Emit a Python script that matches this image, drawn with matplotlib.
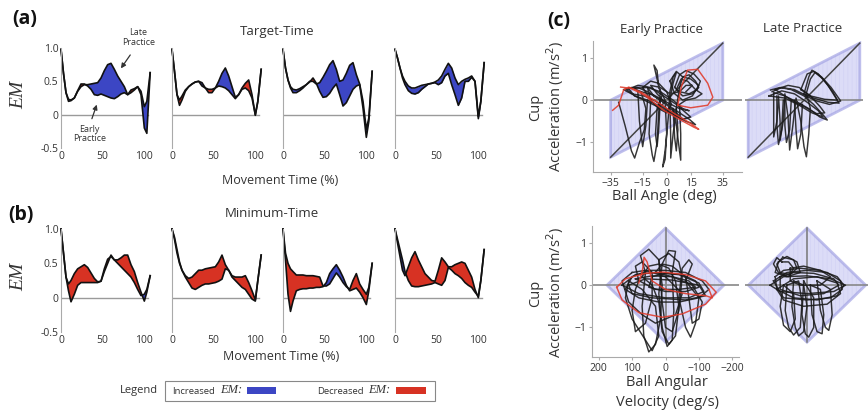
import numpy as np
import matplotlib
matplotlib.use("Agg")
import matplotlib.pyplot as plt
from matplotlib.patches import Polygon, Rectangle

plt.rcParams['font.family'] = ['Open Sans', 'DejaVu Sans']
plt.rcParams['hatch.linewidth'] = 0.4

W, H = 868, 413
fig = plt.figure(figsize=(W / 100, H / 100), dpi=100)

# ---------------- data: EM curves (movement time in %) ----------------
movement_time = [0, 3, 6, 9, 12, 16, 20, 24, 28, 32, 36, 40, 44, 48, 52, 56,
                 60, 64, 68, 72, 76, 80, 84, 88, 92, 96, 100, 103, 107]

target_time_late = [
    [.98, .62, .33, .23, .22, .25, .35, .42, .45, .45, .46, .47, .48, .55, .66, .75, .77, .68, .58, .50, .42, .30, .33, .37, .42, .35, .12, .20, .63],
    [.98, .65, .30, .14, .22, .35, .42, .46, .49, .50, .48, .40, .33, .33, .40, .50, .62, .70, .58, .42, .26, .30, .38, .40, .36, .25, .00, .20, .68],
    [.98, .70, .52, .42, .38, .37, .39, .42, .45, .50, .50, .46, .48, .56, .65, .75, .81, .68, .50, .52, .62, .74, .78, .60, .46, .20, -.22, -.05, .65],
    [.98, .85, .70, .58, .50, .43, .40, .40, .42, .44, .45, .46, .47, .49, .52, .58, .68, .77, .70, .55, .45, .50, .53, .55, .58, .50, -.03, .20, .78],
]
target_time_early = [
    [.98, .62, .33, .20, .21, .25, .36, .46, .46, .43, .38, .30, .29, .31, .29, .27, .25, .24, .27, .31, .33, .30, .37, .39, .42, .30, -.20, -.28, .63],
    [.98, .65, .30, .22, .28, .37, .42, .46, .49, .50, .43, .40, .38, .38, .40, .43, .42, .40, .36, .30, .24, .30, .40, .47, .52, .30, -.01, .20, .68],
    [.98, .70, .52, .40, .33, .33, .36, .40, .45, .49, .55, .47, .35, .26, .27, .32, .40, .46, .30, .13, .18, .28, .38, .43, .45, .10, -.34, -.10, .65],
    [.98, .85, .70, .55, .45, .36, .32, .31, .33, .38, .42, .46, .47, .48, .45, .48, .58, .62, .45, .30, .14, .25, .50, .50, .56, .50, -.06, .20, .78],
]
minimum_time_late = [
    [1.0, .65, .30, .10, -.06, .05, .18, .22, .22, .22, .22, .22, .22, .24, .38, .50, .62, .55, .50, .45, .40, .35, .30, .22, .12, .03, .05, .12, .32],
    [1.0, .88, .70, .52, .40, .30, .22, .14, .12, .15, .18, .20, .20, .21, .22, .24, .27, .42, .40, .30, .25, .20, .15, .12, .05, -.02, -.05, .25, .62],
    [1.0, .55, .05, -.20, -.05, .10, .12, .13, .13, .14, .14, .15, .15, .16, .22, .35, .42, .48, .40, .30, .18, .10, .12, .14, .08, .00, -.10, .10, .50],
    [1.0, .85, .70, .55, .38, .25, .17, .16, .16, .17, .18, .19, .20, .22, .20, .18, .25, .44, .40, .35, .32, .28, .22, .18, .15, .08, .02, .25, .70],
]
minimum_time_early = [
    [1.0, .65, .30, .20, .25, .35, .42, .45, .48, .44, .36, .28, .23, .24, .42, .56, .60, .55, .55, .58, .62, .62, .48, .38, .22, .08, -.05, .08, .32],
    [1.0, .85, .65, .50, .40, .32, .28, .30, .35, .40, .40, .42, .43, .44, .45, .52, .62, .48, .40, .32, .30, .30, .30, .32, .22, .10, -.03, .25, .62],
    [1.0, .65, .50, .42, .38, .33, .33, .33, .32, .32, .32, .31, .30, .17, .17, .20, .28, .36, .30, .22, .16, .12, .25, .35, .20, .12, .05, .15, .50],
    [1.0, .80, .60, .40, .32, .45, .58, .67, .55, .45, .35, .30, .25, .24, .40, .58, .52, .45, .45, .48, .50, .52, .50, .40, .30, .12, .00, .25, .70],
]

em_ticks = [1.0, 0.5, 0.0, -0.5]
em_tick_labels = ['1.0', '0.5', '0', '-0.5']
time_ticks = [0, 50, 100]
time_tick_labels = ['0', '50', '100']

# ---------------- data: phase plots ----------------
angle_region_x = [-35, -35, 35, 35]
angle_region_y = [-1.35, 0, 1.35, 0]
velocity_region_x = [175, 0, -175, 0]
velocity_region_y = [0, 1.35, 0, -1.35]

angle_ticks = [-35, -15, 0, 15, 35]
angle_tick_labels = ['\u221235', '\u221215', '0', '15', '35']
velocity_ticks = [200, 100, 0, -100, -200]
velocity_tick_labels = ['200', '100', '0', '\u2212100', '\u2212200']
acc_ticks = [1, 0, -1]
acc_tick_labels = ['1', '0', '\u22121']

early_angle_black = [
    [(-30, -0.05), (-26, -0.6), (-22, -1.2), (-20, -1.37), (-17, -1.0), (-14, -0.7), (-13, -0.2), (-16, 0.2),
     (-22, 0.3), (-27, 0.25), (-22, 0.15), (-14, 0.1), (-8, 0.0), (-2, -0.15), (5, -0.35), (12, -0.5),
     (18, -0.58), (14, -0.45), (6, -0.25), (-2, -0.05), (-8, 0.1), (-12, 0.3), (-10, 0.0), (-11, -0.8),
     (-9, -1.3), (-8, -1.45), (-6, -1.0), (-5, -0.3), (-4, 0.2), (-6, 0.5), (-8, 0.83), (-6, 0.7),
     (-5, 0.3), (-1, 0.0), (0, -0.8), (-1, -1.4), (-2.5, -1.58), (-1, -1.2), (1, -0.4), (2, 0.2),
     (4, 0.55), (6, 0.65), (4, 0.4), (2, 0.0), (2.5, -0.9), (2.5, -1.37), (4, -0.8), (6, -0.2),
     (8, 0.3), (10, 0.55), (14, 0.6), (18, 0.45), (20, 0.3), (16, 0.15), (10, 0.1), (6, 0.25),
     (9, 0.5), (13, 0.45), (18, 0.25), (22, 0.15), (18, 0.05), (12, 0.0), (8, -0.1), (8.75, -0.8),
     (8.75, -1.42), (7, -0.9), (5, -0.3), (0, -0.1), (-6, 0.05), (-12, 0.2), (-18, 0.3), (-24, 0.28),
     (-20, 0.1), (-12, 0.0), (-4, -0.15), (4, -0.3), (10, -0.45), (6, -0.3), (0, -0.1), (-6, 0.15),
     (-10, 0.35), (-4, 0.3), (2, 0.15), (8, 0.2), (12, 0.35), (16, 0.35), (12, 0.2)],
    [(-25, 0.25), (-18, 0.35), (-10, 0.3), (-2, 0.1), (6, -0.1), (12, -0.3), (15, -0.4), (10, -0.45),
     (2, -0.3), (-6, -0.15), (-14, 0.0), (-20, 0.1), (-25, 0.25)],
    [(-15, 0.3), (-10, 0.45), (-5, 0.4), (0, 0.2), (3, -0.1), (0, -0.3), (-5, -0.2), (-10, 0.0), (-15, 0.3)],
    [(5, 0.3), (8, 0.6), (12, 0.7), (17, 0.62), (21, 0.45), (19, 0.25), (14, 0.15), (8, 0.2), (5, 0.3)],
    [(2, 0.45), (6, 0.68), (10, 0.55), (15, 0.5), (20, 0.35), (16, 0.1), (10, 0.0), (5, 0.15), (2, 0.45)],
    [(-4, 0.0), (-5, -0.7), (-6, -1.1), (-7, -0.8), (-6, -0.2), (-3, 0.1)],
    [(4, -0.2), (5, -0.9), (6, -1.2), (7, -0.7), (6, -0.2)],
    [(-18, 0.2), (-17, -0.5), (-15, -1.1), (-13, -0.6), (-12, 0.0)],
    [(-20, 0.28), (-12, 0.3), (-4, 0.2), (4, 0.0), (10, -0.2), (14, -0.25), (8, -0.2), (0, -0.05), (-8, 0.12), (-16, 0.2)],
]
early_angle_red = [
    [(-33.75, -0.24), (-30, -0.12), (-26.9, 0.24), (-23.75, 0.31), (-16, 0.19), (-5.6, -0.05), (4.4, -0.31),
     (15, -0.55), (20, -0.69), (17, -0.64), (8.75, -0.47), (-1.9, -0.24), (-14, 0.12), (-22.5, 0.28), (-28.75, 0.31)],
    [(6.9, -0.12), (9, 0.3), (13, 0.71), (19.4, 0.73), (25.6, 0.40), (28.8, 0.07), (25.6, -0.12), (15, -0.18), (6.9, -0.12)],
]
late_angle_black = [
    [(-21, 0.24), (-15, 0.3), (-8, 0.25), (0, 0.1), (6, -0.1), (12, -0.35), (14.6, -0.47), (10, -0.4),
     (3, -0.2), (-4, -0.05), (-12, 0.1), (-19, 0.18), (-19, -0.3), (-19, -0.87), (-17, -0.5), (-16, 0.1),
     (-15, -0.5), (-15, -0.95), (-13, -0.5), (-12, 0.15), (-10, -0.4), (-9, -1.18), (-7, -0.6), (-5, 0.05),
     (-2, -0.5), (0, -1.1), (1.5, -1.34), (3, -0.8), (4, -0.2), (2, 0.1), (-6, 0.25), (-14, 0.3), (-20, 0.2)],
    [(0, 0.15), (3, 0.55), (5, 0.71), (9, 0.62), (15, 0.35), (22, -0.07), (15, -0.05), (6, 0.05), (0, 0.15)],
    [(-2, 0.25), (2, 0.62), (6, 0.68), (12, 0.5), (18, 0.2), (21, 0.0), (13, 0.02), (4, 0.1), (-2, 0.25)],
    [(1, 0.1), (4, 0.5), (7, 0.66), (11, 0.55), (17, 0.3), (23, -0.02), (16, -0.1), (8, -0.02), (1, 0.1)],
    [(-18, 0.25), (-10, 0.35), (-3, 0.3), (4, 0.1), (10, -0.15), (13, -0.3), (8, -0.32), (0, -0.15), (-8, 0.0), (-18, 0.25)],
    [(-12, 0.0), (-12, -0.6), (-11, -1.0), (-9, -0.7), (-8, 0.0)],
    [(-6, 0.0), (-5, -0.7), (-4, -1.15), (-2, -0.8), (-1, -0.1)],
    [(-17, 0.1), (-17, -0.6), (-16, -1.05), (-14, -0.7), (-13, 0.0)],
    [(-22, 0.1), (-14, 0.22), (-6, 0.15), (2, -0.05), (9, -0.25), (12, -0.4), (5, -0.3), (-3, -0.12), (-12, 0.05), (-22, 0.1)],
]
early_velocity_black = [
    [(120, -0.1), (100, 0.2), (50, 0.35), (0, 0.35), (-60, 0.3), (-110, 0.1), (-130, -0.1), (-100, -0.3), (-40, -0.4), (20, -0.4), (80, -0.3), (120, -0.1)],
    [(60, 0.3), (75, 0.7), (50, 0.85), (20, 0.6), (10, 0.0), (15, -0.8), (30, -1.4), (50, -1.58), (65, -1.2), (70, -0.5), (60, 0.3)],
    [(-20, 0.3), (-30, 0.8), (-10, 0.82), (10, 0.5), (20, -0.2), (10, -1.0), (-5, -1.45), (-20, -1.3), (-25, -0.6), (-20, 0.3)],
    [(-60, 0.1), (-80, 0.5), (-70, 0.6), (-50, 0.4), (-40, -0.3), (-60, -1.0), (-75, -1.23), (-90, -0.9), (-100, -0.3), (-60, 0.1)],
    [(80, 0.1), (90, 0.45), (70, 0.55), (40, 0.3), (40, -0.3), (60, -0.9), (90, -1.1), (100, -0.6), (90, -0.1), (80, 0.1)],
    [(40, 0.2), (0, 0.28), (-50, 0.25), (-90, 0.1), (-100, -0.05), (-60, -0.15), (0, -0.15), (50, -0.05), (40, 0.2)],
    [(110, 0.0), (60, 0.15), (-20, 0.12), (-100, 0.0), (-120, -0.25), (-60, -0.35), (40, -0.3), (100, -0.2), (110, 0.0)],
    [(20, 0.6), (-10, 0.75), (-40, 0.55), (-50, 0.2), (-40, -0.6), (-20, -1.1), (0, -1.0), (10, -0.4), (20, 0.6)],
    [(100, 0.3), (130, 0.1), (110, -0.4), (70, -0.7), (30, -0.9), (-30, -0.7), (-50, -0.2), (0, 0.2), (60, 0.35), (100, 0.3)],
    [(130, 0.0), (90, 0.25), (30, 0.3), (-40, 0.25), (-100, 0.05), (-115, -0.15), (-70, -0.3), (0, -0.3), (80, -0.2), (130, 0.0)],
    [(70, 0.2), (50, 0.45), (20, 0.5), (-10, 0.4), (-30, 0.1), (-40, -0.5), (-30, -1.2), (-10, -1.4), (10, -1.1), (20, -0.4), (40, 0.0), (70, 0.2)],
    [(30, 0.3), (10, 0.5), (-20, 0.45), (-60, 0.2), (-70, -0.3), (-80, -0.9), (-100, -0.8), (-110, -0.4), (-80, 0.0), (-20, 0.2), (30, 0.3)],
    [(110, 0.1), (120, -0.3), (100, -0.8), (60, -1.3), (40, -1.55), (20, -1.2), (30, -0.5), (70, -0.1), (110, 0.1)],
    [(90, 0.15), (40, 0.22), (-20, 0.2), (-70, 0.1), (-90, -0.05), (-40, -0.1), (30, -0.1), (90, 0.15)],
]
early_velocity_red = [
    [(146, -0.05), (120, 0.15), (60, 0.28), (9, 0.31), (-60, 0.25), (-120, 0.1), (-152, -0.17), (-120, -0.45), (-50, -0.68), (9, -0.76), (80, -0.65), (130, -0.35), (146, -0.05)],
    [(80, 0.05), (69, 0.35), (64, 0.66), (55, 0.55), (40, 0.1), (0, -0.1), (-60, -0.2), (-120, -0.25), (-140, -0.3), (-130, -0.1)],
]
late_velocity_black = [
    [(72, 0.66), (90, 0.5), (80, 0.3), (50, 0.25), (30, 0.4), (40, 0.6), (72, 0.66)],
    [(85, 0.55), (60, 0.68), (30, 0.55), (20, 0.3), (60, 0.2), (95, 0.3), (85, 0.55)],
    [(100, 0.1), (60, 0.3), (0, 0.35), (-60, 0.3), (-100, 0.1), (-105, -0.1), (-70, -0.3), (0, -0.35), (70, -0.3), (100, 0.1)],
    [(90, -0.1), (40, 0.15), (-30, 0.2), (-90, 0.05), (-100, -0.2), (-60, -0.45), (10, -0.5), (70, -0.35), (90, -0.1)],
    [(60, 0.0), (65, -0.6), (55, -1.0), (40, -1.18), (20, -1.0), (15, -0.4), (25, 0.1), (60, 0.0)],
    [(10, 0.1), (15, -0.7), (5, -1.15), (-5, -1.23), (-20, -1.0), (-20, -0.3), (10, 0.1)],
    [(-30, 0.1), (-40, -0.6), (-55, -1.0), (-65, -1.07), (-75, -0.7), (-70, -0.1), (-30, 0.1)],
    [(80, 0.2), (40, 0.3), (-20, 0.28), (-80, 0.15), (-95, 0.0), (-50, -0.2), (20, -0.25), (80, -0.1), (80, 0.2)],
    [(50, 0.4), (10, 0.45), (-40, 0.35), (-70, 0.2), (-40, 0.0), (20, 0.0), (50, 0.1), (50, 0.4)],
    [(70, 0.0), (80, -0.5), (70, -0.95), (50, -1.1), (35, -0.8), (40, -0.2), (70, 0.0)],
    [(95, 0.2), (70, 0.35), (20, 0.4), (-40, 0.35), (-90, 0.2), (-110, 0.0), (-90, -0.25), (-30, -0.35), (40, -0.3), (90, -0.1), (95, 0.2)],
    [(75, 0.55), (90, 0.65), (100, 0.5), (85, 0.3), (55, 0.2), (40, 0.4), (55, 0.55), (75, 0.55)],
    [(40, 0.1), (45, -0.5), (35, -1.0), (25, -1.2), (10, -1.1), (0, -0.5), (10, 0.0), (40, 0.1)],
    [(-10, 0.0), (-15, -0.7), (-30, -1.1), (-45, -1.15), (-50, -0.7), (-40, -0.1), (-10, 0.0)],
    [(110, 0.0), (70, 0.2), (0, 0.22), (-70, 0.15), (-115, 0.0), (-80, -0.15), (0, -0.2), (80, -0.15), (110, 0.0)],
]

# ---------------- styles ----------------
BLUE = '#3c46c4'
RED = '#d73223'
TXT = '#333333'
SERIF = ['Liberation Serif', 'DejaVu Serif']


def add_ax(l, t, w, h):
    return fig.add_axes([l / W, 1 - (t + h) / H, w / W, h / H])


def ftext(x, y, s, **kw):
    kw.setdefault('color', TXT)
    return fig.text(x / W, 1 - y / H, s, **kw)


def em_panel(l, t, h, late, early, first):
    ax = add_ax(l, t, 90, h)
    tt = np.array(movement_time, dtype=float)
    lt = np.array(late)
    er = np.array(early)
    ax.fill_between(tt, er, lt, where=lt >= er, interpolate=True, color=BLUE, lw=0)
    ax.fill_between(tt, er, lt, where=lt <= er, interpolate=True, color=RED, lw=0)
    ax.plot(tt, lt, color='#111111', lw=1.2, clip_on=False, solid_joinstyle='round')
    ax.plot(tt, er, color='#111111', lw=1.2, clip_on=False, solid_joinstyle='round')
    ax.plot([0, 104], [0, 0], color='#9a9a9a', lw=1, zorder=0)
    ax.set_xlim(0, 108)
    ax.set_ylim(-0.5, 1.0)
    for s in ['top', 'right', 'bottom']:
        ax.spines[s].set_visible(False)
    ax.spines['left'].set_color('#aaaaaa')
    ax.set_xticks(time_ticks)
    ax.set_xticklabels(time_tick_labels)
    ax.tick_params(length=0, labelsize=7.5, labelcolor=TXT, pad=2)
    if first:
        ax.set_yticks(em_ticks)
        ax.set_yticklabels(em_tick_labels)
    else:
        ax.set_yticks([])
    ax.patch.set_alpha(0)
    return ax


lefts = [61, 172, 283, 395]
axes_a = [em_panel(lefts[i], 48, 100, target_time_late[i], target_time_early[i], i == 0) for i in range(4)]
axes_b = [em_panel(lefts[i], 229, 103, minimum_time_late[i], minimum_time_early[i], i == 0) for i in range(4)]

# annotations in first target-time panel
a0 = axes_a[0]
a0.annotate('', xy=(70, 0.66), xytext=(85, 0.93),
            arrowprops=dict(arrowstyle='-|>', color='#333333', lw=0.9, mutation_scale=7))
a0.text(93, 1.16, 'Late\nPractice', ha='center', va='center', fontsize=6.5, color=TXT,
        linespacing=1.1, clip_on=False)
a0.annotate('', xy=(44, 0.19), xytext=(36, -0.1),
            arrowprops=dict(arrowstyle='-|>', color='#333333', lw=0.9, mutation_scale=7))
a0.text(34, -0.29, 'Early\nPractice', ha='center', va='center', fontsize=6.5, color=TXT,
        linespacing=1.1, clip_on=False)

# panel texts (a),(b)
ftext(25, 19, '(a)', fontsize=14, fontweight='bold', ha='center', va='center', color='#111111')
ftext(277, 31, 'Target-Time', fontsize=9.5, ha='center', va='center')
ftext(280, 181, 'Movement Time (%)', fontsize=9, ha='center', va='center')
ftext(21, 215, '(b)', fontsize=14, fontweight='bold', ha='center', va='center', color='#111111')
ftext(272, 213, 'Minimum-Time', fontsize=9.5, ha='center', va='center')
ftext(281, 356, 'Movement Time (%)', fontsize=9, ha='center', va='center')
ftext(19, 95, 'EM', fontsize=14, style='italic', family=SERIF, rotation=90, ha='center', va='center')
ftext(19, 277, 'EM', fontsize=14, style='italic', family=SERIF, rotation=90, ha='center', va='center')

# legend box
fig.patches.append(Rectangle((165 / W, 1 - 401 / H), 270 / W, 20 / H, transform=fig.transFigure,
                             facecolor='white', edgecolor='#888888', lw=0.8))
ftext(158, 390, 'Legend', fontsize=8, ha='right', va='center')
ftext(172, 391, 'Increased', fontsize=6.8, ha='left', va='center')
ftext(220, 390, 'EM:', fontsize=9, style='italic', family=SERIF, ha='left', va='center')
fig.patches.append(Rectangle((247 / W, 1 - 394 / H), 29 / W, 7 / H, transform=fig.transFigure,
                             facecolor=BLUE, edgecolor='none'))
ftext(317, 391, 'Decreased', fontsize=6.8, ha='left', va='center')
ftext(368, 390, 'EM:', fontsize=9, style='italic', family=SERIF, ha='left', va='center')
fig.patches.append(Rectangle((396 / W, 1 - 394 / H), 30 / W, 7 / H, transform=fig.transFigure,
                             facecolor=RED, edgecolor='none'))


# ---------------- panel (c) ----------------
def shade(ax, xs, ys):
    pts = list(zip(xs, ys))
    ax.add_patch(Polygon(pts, closed=True, facecolor='#dcdcf7', edgecolor='none', zorder=1))
    ax.add_patch(Polygon(pts, closed=True, facecolor='none', edgecolor='#d0d0f4', hatch='||||',
                         lw=0, zorder=1.1))
    ax.add_patch(Polygon(pts, closed=True, facecolor='none', edgecolor='#a4a4e4', lw=2.0, zorder=1.2,
                         alpha=0.7))


def draw_paths(ax, paths, color, lw=1.05):
    for pts in paths:
        xs, ys = zip(*pts)
        ax.plot(xs, ys, color=color, lw=lw, zorder=3, solid_joinstyle='round', alpha=0.88)


def style_phase(ax, xticks, xlabels):
    for s in ['top', 'right']:
        ax.spines[s].set_visible(False)
    ax.spines['left'].set_color('#aaaaaa')
    ax.spines['bottom'].set_color('#aaaaaa')
    ax.set_xticks(xticks)
    ax.set_xticklabels(xlabels)
    ax.set_yticks(acc_ticks)
    ax.set_yticklabels(acc_tick_labels)
    ax.tick_params(length=2, color='#aaaaaa', labelsize=7.5, labelcolor=TXT, pad=2)
    ax.patch.set_alpha(0)


# top-left: early, ball angle
c1 = add_ax(593, 41, 149, 131)
c1.set_xlim(-46, 47)
c1.set_ylim(-1.7, 1.4)
shade(c1, angle_region_x, angle_region_y)
c1.plot([-35, 35], [-1.35, 1.35], color='#444444', lw=1.1, zorder=2)
c1.axhline(0, color='#888888', lw=1.2, zorder=2)
draw_paths(c1, early_angle_black, '#1a1a1a')
draw_paths(c1, early_angle_red, '#e03a2a')
style_phase(c1, angle_ticks, angle_tick_labels)

# top-right: late, ball angle
c2 = add_ax(745, 41, 118, 131)
c2.set_xlim(-37, 37)
c2.set_ylim(-1.7, 1.4)
shade(c2, angle_region_x, angle_region_y)
c2.plot([-35, 35], [-1.35, 1.35], color='#444444', lw=1.1, zorder=2)
c2.axhline(0, color='#888888', lw=1.2, zorder=2)
draw_paths(c2, late_angle_black, '#1a1a1a')
c2.axis('off')

# bottom-left: early, ball angular velocity
c3 = add_ax(592, 226, 147, 131)
c3.set_xlim(220, -220)
c3.set_ylim(-1.7, 1.4)
shade(c3, velocity_region_x, velocity_region_y)
c3.plot([0, 0], [-1.35, 1.35], color='#777777', lw=1.1, zorder=2)
c3.axhline(0, color='#888888', lw=1.2, zorder=2)
draw_paths(c3, early_velocity_black, '#1a1a1a')
draw_paths(c3, early_velocity_red, '#e03a2a')
style_phase(c3, velocity_ticks, velocity_tick_labels)

# bottom-right: late, ball angular velocity
c4 = add_ax(745, 226, 123, 131)
c4.set_xlim(185, -182)
c4.set_ylim(-1.7, 1.4)
shade(c4, velocity_region_x, velocity_region_y)
c4.plot([0, 0], [-1.35, 1.35], color='#777777', lw=1.1, zorder=2)
c4.axhline(0, color='#888888', lw=1.2, zorder=2)
draw_paths(c4, late_velocity_black, '#1a1a1a')
c4.axis('off')

ftext(559, 21, '(c)', fontsize=14, fontweight='bold', ha='center', va='center', color='#111111')
ftext(662, 29, 'Early Practice', fontsize=9.5, ha='center', va='center')
ftext(803, 29, 'Late Practice', fontsize=9.5, ha='center', va='center')
ftext(547, 107, 'Cup\nAcceleration (m/s$^2$)', fontsize=10.5, rotation=90, ha='center', va='center',
      multialignment='center', linespacing=1.05)
ftext(664, 197, 'Ball Angle (deg)', fontsize=10.5, ha='center', va='center')
ftext(547, 293, 'Cup\nAcceleration (m/s$^2$)', fontsize=10.5, rotation=90, ha='center', va='center',
      multialignment='center', linespacing=1.05)
ftext(667, 383, 'Ball Angular', fontsize=10.5, ha='center', va='center')
ftext(667, 402, 'Velocity (deg/s)', fontsize=10.5, ha='center', va='center')

fig.savefig('out.png', dpi=100)
